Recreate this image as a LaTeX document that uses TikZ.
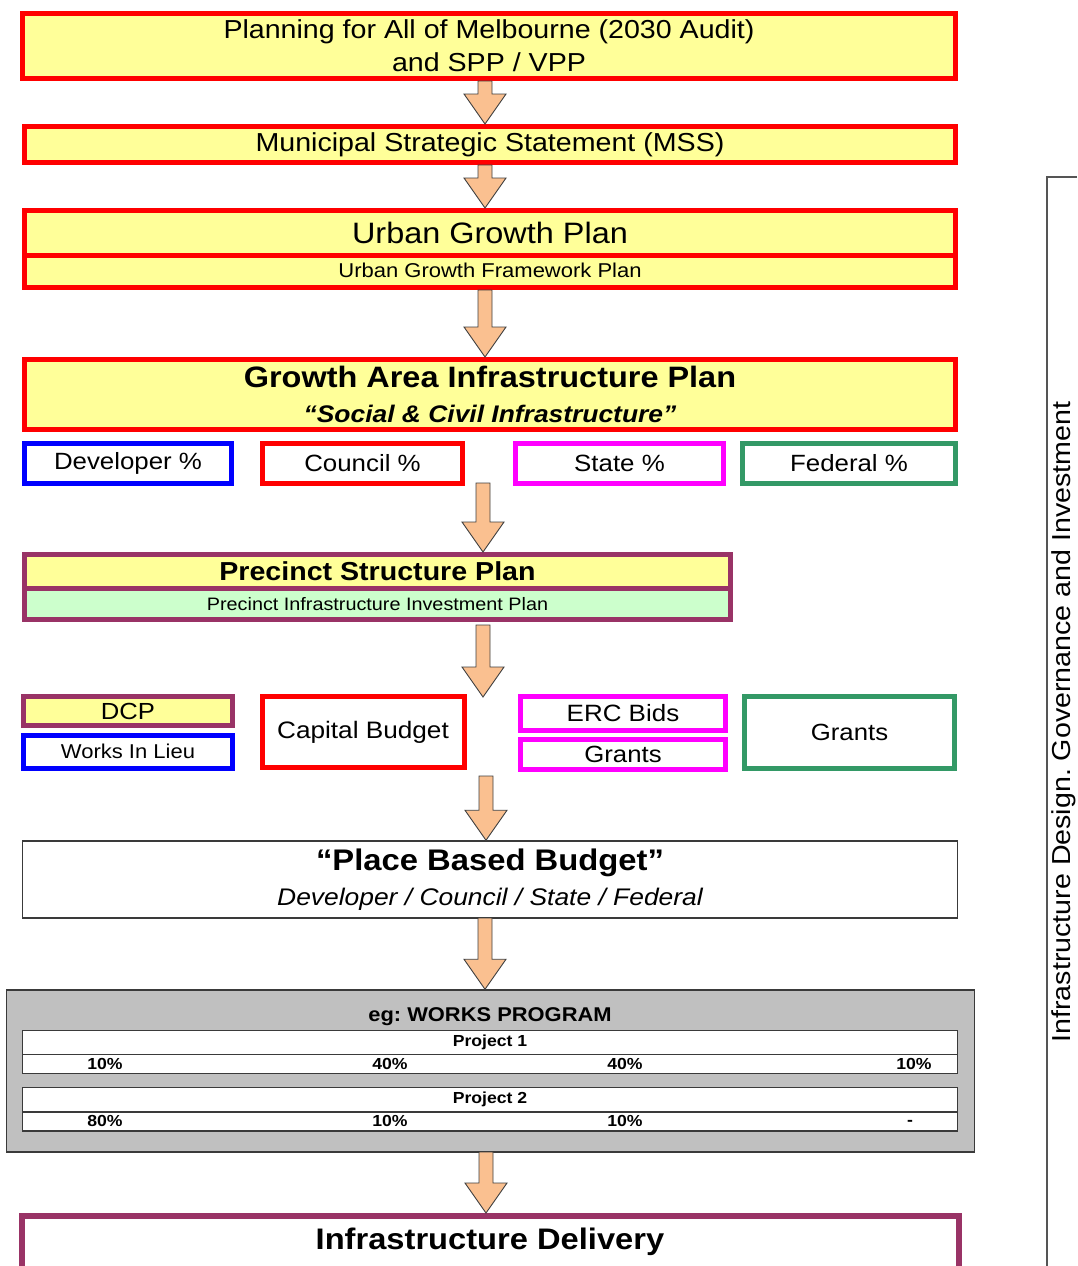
\documentclass[tikz,border=0pt]{standalone}
\usepackage{fontspec}
\setmainfont[FakeStretch=1.1]{Liberation Sans}
\usetikzlibrary{calc}
\frenchspacing
\definecolor{boxyellow}{HTML}{FFFF99}
\definecolor{bred}{HTML}{FF0000}
\definecolor{bblue}{HTML}{0000FF}
\definecolor{bmag}{HTML}{FF00FF}
\definecolor{bgreen}{HTML}{339966}
\definecolor{bmaroon}{HTML}{993366}
\definecolor{lgreen}{HTML}{CCFFCC}
\definecolor{wpgray}{HTML}{C0C0C0}
\definecolor{arrfill}{HTML}{FAC090}
\definecolor{arrline}{HTML}{404040}
\definecolor{darkline}{HTML}{3A3A3A}
\definecolor{brgray}{HTML}{555555}
\newcommand{\fs}[1]{\fontsize{#1}{#1}\selectfont}
\newcommand{\blockarrow}[2]{%
  \path[draw=arrline, fill=arrfill, line width=0.9pt, line join=miter]
    let \p1=(#1), \p2=(#2 -| #1) in
    (\x1-7pt,\y1) -- (\x1+7pt,\y1) -- (\x1+7pt,\y2+30pt) -- (\x1+21pt,\y2+30pt)
    -- (\x1,\y2) -- (\x1-21pt,\y2+30pt) -- (\x1-7pt,\y2+30pt) -- cycle;}
\begin{document}
\frenchspacing
\begin{tikzpicture}[x=1pt,y=-1pt,
  pbox/.style={draw, rectangle, inner sep=0pt, line width=5pt, align=center},
  thinbox/.style={draw=darkline, rectangle, inner sep=0pt, line width=1.5pt, align=center, fill=white},
  pct/.style={inner sep=0pt, font=\fs{16}\bfseries},
  bracket/.style={draw=brgray, line width=1.5pt}]
\useasboundingbox (0,0) rectangle (1077,1266);
\clip (0,0) rectangle (1077,1266);
\fill[white] (0,0) rectangle (1077,1266);

% top chain
\node[pbox, draw=bred, fill=boxyellow, minimum width=933pt, minimum height=65pt, font=\fs{26}]
  (plan) at (489,46) {Planning for All of Melbourne (2030 Audit)\\[7pt]and SPP / VPP};
\node[pbox, draw=bred, fill=boxyellow, minimum width=931pt, minimum height=36pt, font=\fs{26}]
  (mss) at (490,144.5) {Municipal Strategic Statement (MSS)};
\node[pbox, draw=bred, fill=boxyellow, minimum width=931pt, minimum height=35pt, font=\fs{20}]
  (ugfp) at (490,270) {Urban Growth Framework Plan};
\node[pbox, draw=bred, fill=boxyellow, minimum width=931pt, minimum height=45pt, font=\fs{29.5}]
  (ugp) at (490,233) {Urban Growth Plan};
\node[pbox, draw=bred, fill=boxyellow, minimum width=931pt, minimum height=70pt, font=\fs{29.5}\bfseries]
  (gaip) at (490,394.5) {Growth Area Infrastructure Plan\\[5.5pt]{\fs{24}\itshape “Social \& Civil Infrastructure”}};

% shares row
\node[pbox, draw=bblue, fill=white, minimum width=207pt, minimum height=40pt, font=\fs{23.5}]
  (dev) at (128,463.5) {Developer \%};
\node[pbox, draw=bred, fill=white, minimum width=200pt, minimum height=40pt, font=\fs{23.5}]
  (council) at (362.5,463.5) {Council \%};
\node[pbox, draw=bmag, fill=white, minimum width=208pt, minimum height=40pt, font=\fs{23.5}]
  (state) at (619.5,463.5) {State \%};
\node[pbox, draw=bgreen, fill=white, minimum width=213pt, minimum height=40pt, font=\fs{23.5}]
  (federal) at (849,463.5) {Federal \%};

% precinct structure plan
\node[pbox, draw=bmaroon, fill=lgreen, minimum width=706pt, minimum height=31pt, font=\fs{18}]
  (piip) at (377.5,604) {Precinct Infrastructure Investment Plan};
\node[pbox, draw=bmaroon, fill=boxyellow, minimum width=706pt, minimum height=34pt, font=\fs{26}\bfseries]
  (psp) at (377.5,571.5) {Precinct Structure Plan};

% funding sources row
\node[pbox, draw=bmaroon, fill=boxyellow, minimum width=209pt, minimum height=29pt, font=\fs{23.3}]
  (dcp) at (128,711) {DCP};
\node[pbox, draw=bblue, fill=white, minimum width=209pt, minimum height=33pt, font=\fs{20}]
  (wil) at (128,751.7) {Works In Lieu};
\node[pbox, draw=bred, fill=white, minimum width=202pt, minimum height=70.7pt, font=\fs{23.8}]
  (capital) at (363,732.3) {Capital Budget};
\node[pbox, draw=bmag, fill=white, minimum width=205pt, minimum height=33.7pt, font=\fs{23.6}]
  (erc) at (623,713.3) {ERC Bids};
\node[pbox, draw=bmag, fill=white, minimum width=205pt, minimum height=30pt, font=\fs{23.4}]
  (sgrants) at (623,754.2) {Grants};
\node[pbox, draw=bgreen, fill=white, minimum width=210pt, minimum height=71.7pt, font=\fs{23.4}]
  (fgrants) at (849.5,732.3) {Grants};

% place based budget
\node[thinbox, minimum width=935pt, minimum height=77pt, font=\fs{29.8}\bfseries]
  (pbb) at (490,879.5) {“Place Based Budget”\\[5pt]{\fs{24}\mdseries\itshape Developer / Council / State / Federal}};

% works program
\node[draw=darkline, line width=1.5pt, fill=wpgray, rectangle, inner sep=0pt,
  minimum width=968pt, minimum height=162pt] (wp) at (490.5,1071) {};
\node[inner sep=0pt, font=\fs{19.9}\bfseries] (wptitle) at (490,1017) {eg: WORKS PROGRAM};
\node[thinbox, minimum width=935pt, minimum height=24pt, font=\fs{16}\bfseries] (p1head) at (490,1042.7) {Project 1};
\node[thinbox, minimum width=935pt, minimum height=19pt] (p1row) at (490,1064.2) {};
\node[thinbox, minimum width=935pt, minimum height=24.3pt, font=\fs{16}\bfseries] (p2head) at (490,1099.8) {Project 2};
\node[thinbox, minimum width=935pt, minimum height=19pt] (p2row) at (490,1121.5) {};
\node[pct] (p1a) at (105,1064) {10\%};
\node[pct] (p1b) at (390,1064) {40\%};
\node[pct] (p1c) at (625,1064) {40\%};
\node[pct] (p1d) at (914,1064) {10\%};
\node[pct] (p2a) at (105,1121) {80\%};
\node[pct] (p2b) at (390,1121) {10\%};
\node[pct] (p2c) at (625,1121) {10\%};
\node[pct] (p2d) at (910,1123) {-};

% infrastructure delivery
\node[pbox, draw=bmaroon, line width=6pt, fill=white, minimum width=937pt, minimum height=84pt] (delivery) at (490.5,1258) {};
\node[inner sep=0pt, font=\fs{29.7}\bfseries] (deltext) at (490,1242) {Infrastructure Delivery};

% right bracket and side label
\coordinate (brtop) at (1077,177);
\coordinate (brbot) at (1047,1266);
\draw[bracket] (brtop) -| (brbot);
\node[rotate=90, inner sep=0pt, font=\fs{26}] (side) at (1064,722) {Infrastructure Design. Governance and Investment};

% arrows
\coordinate (a1) at (485,81);
\coordinate (a2) at (485,165);
\coordinate (a3) at (485,290);
\coordinate (a4) at (483,483);
\coordinate (a5) at (483,625);
\coordinate (a5e) at (483,697);
\coordinate (a6) at (486,776);
\coordinate (a7) at (485,918);
\coordinate (a8) at (486,1152);
\blockarrow{a1}{mss.north}
\blockarrow{a2}{ugp.north}
\blockarrow{a3}{gaip.north}
\blockarrow{a4}{psp.north}
\blockarrow{a5}{a5e}
\blockarrow{a6}{pbb.north}
\blockarrow{a7}{wp.north}
\blockarrow{a8}{delivery.north}
\end{tikzpicture}
\end{document}
